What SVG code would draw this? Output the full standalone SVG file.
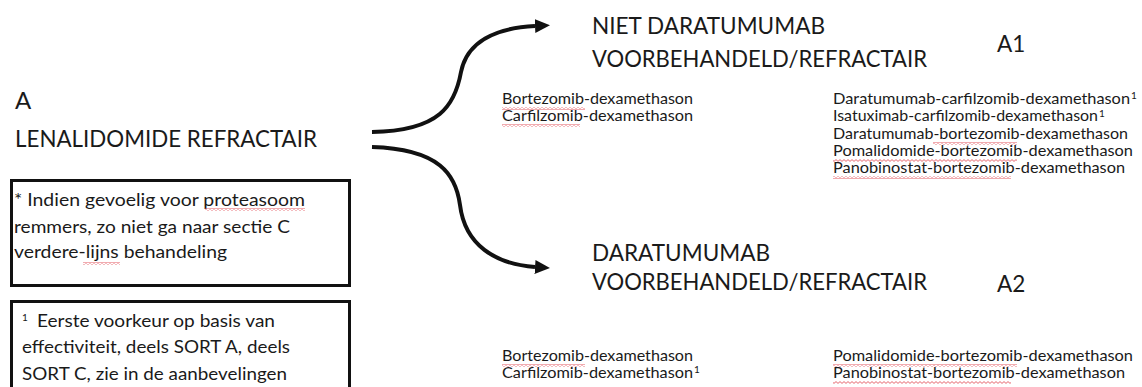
<svg xmlns="http://www.w3.org/2000/svg" width="1142" height="387" viewBox="0 0 1142 387">
<style>
text{font-family:Lato,"Open Sans","Liberation Sans",sans-serif;fill:#1a1a1a}
.h{font-size:22.5px}
.big{font-size:24px}
.box{font-size:17.5px}
.drug{font-size:16px}
.sup{font-size:10px}
.frame{fill:#fff;stroke:#111;stroke-width:3}
.conn{fill:none;stroke:#111;stroke-width:4}
.wavy{fill:url(#wavy)}
</style>
<defs>
<pattern id="wavy" width="4" height="3" patternUnits="userSpaceOnUse">
<path d="M0,0.6 L2,2.4 L4,0.6" fill="none" stroke="#e0404a" stroke-width="0.8"/>
</pattern>
<marker id="arr" markerUnits="userSpaceOnUse" markerWidth="16" markerHeight="14" refX="0" refY="7" orient="auto" viewBox="0 0 16 14">
<path d="M0,0 L15,7 L0,14 z" fill="#111"/>
</marker>
</defs>
<rect width="1142" height="387" fill="#fff"/>

<g id="connectors">
<path class="conn" d="M372,132 C440,131 455,105 461,72 C467,42 495,28 535,26" marker-end="url(#arr)"/>
<path class="conn" d="M372,147 C440,149 456,175 460,205 C465,245 495,264 535,267" marker-end="url(#arr)"/>
</g>

<g id="node-A">
<text class="big" x="15" y="109">A</text>
<text class="big" x="15" y="147" textLength="302" lengthAdjust="spacingAndGlyphs">LENALIDOMIDE REFRACTAIR</text>
</g>

<g id="note-star">
<rect class="frame" x="11.5" y="180.5" width="338" height="105"/>
<text class="box" x="14" y="206" textLength="291" lengthAdjust="spacingAndGlyphs">* Indien gevoelig voor proteasoom</text>
<text class="box" x="14" y="233" textLength="276" lengthAdjust="spacingAndGlyphs">remmers, zo niet ga naar sectie C</text>
<text class="box" x="14" y="258" textLength="213" lengthAdjust="spacingAndGlyphs">verdere-lijns behandeling</text>
<rect class="wavy" x="205" y="208" width="100" height="3"/>
<rect class="wavy" x="83" y="262" width="37" height="3"/>
</g>

<g id="note-1">
<rect class="frame" x="11.5" y="301.5" width="338" height="100"/>
<text class="sup" x="22" y="321">1</text>
<text class="box" x="37" y="327" textLength="238" lengthAdjust="spacingAndGlyphs">Eerste voorkeur op basis van</text>
<text class="box" x="22" y="353" textLength="268" lengthAdjust="spacingAndGlyphs">effectiviteit, deels SORT A, deels</text>
<text class="box" x="22" y="380" textLength="265" lengthAdjust="spacingAndGlyphs">SORT C, zie in de aanbevelingen</text>
</g>

<g id="node-A1">
<text class="h" x="592" y="34" textLength="233" lengthAdjust="spacingAndGlyphs">NIET DARATUMUMAB</text>
<text class="h" x="592" y="67" textLength="335" lengthAdjust="spacingAndGlyphs">VOORBEHANDELD/REFRACTAIR</text>
<text class="h" x="997" y="52">A1</text>
<text class="drug" x="502" y="104" textLength="191" lengthAdjust="spacingAndGlyphs">Bortezomib-dexamethason</text>
<text class="drug" x="502" y="121" textLength="191" lengthAdjust="spacingAndGlyphs">Carfilzomib-dexamethason</text>
<rect class="wavy" x="502" y="107" width="83" height="3"/>
<rect class="wavy" x="502" y="124" width="78" height="3"/>
<text class="drug" x="833" y="104" textLength="297" lengthAdjust="spacingAndGlyphs">Daratumumab-carfilzomib-dexamethason</text>
<text class="sup" x="1131" y="99">1</text>
<text class="drug" x="833" y="121" textLength="265" lengthAdjust="spacingAndGlyphs">Isatuximab-carfilzomib-dexamethason</text>
<text class="sup" x="1099" y="117">1</text>
<text class="drug" x="833" y="139" textLength="295" lengthAdjust="spacingAndGlyphs">Daratumumab-bortezomib-dexamethason</text>
<text class="drug" x="833" y="156" textLength="300" lengthAdjust="spacingAndGlyphs">Pomalidomide-bortezomib-dexamethason</text>
<text class="drug" x="833" y="173" textLength="292" lengthAdjust="spacingAndGlyphs">Panobinostat-bortezomib-dexamethason</text>
<rect class="wavy" x="933" y="142" width="84" height="3"/>
<rect class="wavy" x="833" y="159" width="184" height="3"/>
<rect class="wavy" x="833" y="176" width="178" height="3"/>
</g>

<g id="node-A2">
<text class="h" x="592" y="261" textLength="178" lengthAdjust="spacingAndGlyphs">DARATUMUMAB</text>
<text class="h" x="592" y="290" textLength="335" lengthAdjust="spacingAndGlyphs">VOORBEHANDELD/REFRACTAIR</text>
<text class="h" x="997" y="292">A2</text>
<text class="drug" x="502" y="361" textLength="191" lengthAdjust="spacingAndGlyphs">Bortezomib-dexamethason</text>
<text class="drug" x="502" y="378" textLength="191" lengthAdjust="spacingAndGlyphs">Carfilzomib-dexamethason</text>
<text class="sup" x="694" y="373">1</text>
<rect class="wavy" x="502" y="364" width="83" height="3"/>
<text class="drug" x="833" y="361" textLength="300" lengthAdjust="spacingAndGlyphs">Pomalidomide-bortezomib-dexamethason</text>
<text class="drug" x="833" y="378" textLength="292" lengthAdjust="spacingAndGlyphs">Panobinostat-bortezomib-dexamethason</text>
<rect class="wavy" x="833" y="364" width="184" height="3"/>
<rect class="wavy" x="833" y="381" width="178" height="3"/>
</g>
</svg>
